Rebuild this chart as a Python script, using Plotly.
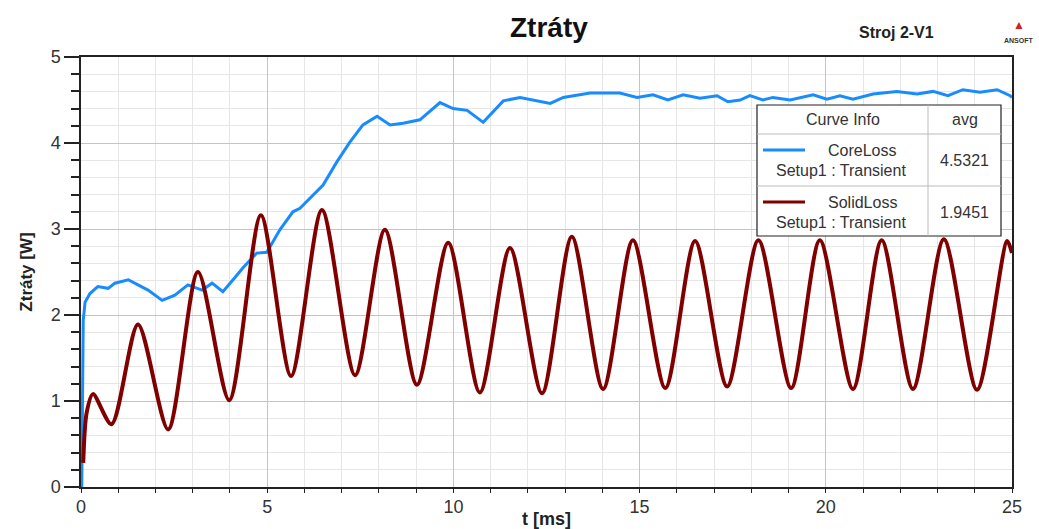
import plotly.graph_objects as go

# ---------------- data ----------------
core_t = [0.02, 0.06, 0.11, 0.24, 0.45, 0.73, 0.91, 1.27, 1.53, 1.8, 2.18, 2.52, 2.87, 3.25,
          3.52, 3.81, 4.14, 4.35, 4.72, 4.99, 5.34, 5.69, 5.88, 6.5, 6.87, 7.22, 7.57, 7.95,
          8.3, 8.65, 9.1, 9.64, 9.99, 10.37, 10.8, 11.07, 11.34, 11.79, 12.33, 12.6, 12.95,
          13.4, 13.67, 14.47, 14.93, 15.36, 15.76, 16.17, 16.62, 17.08, 17.37, 17.7, 17.96,
          18.31, 18.58, 19.04, 19.66, 20.03, 20.38, 20.73, 21.27, 21.91, 22.45, 22.88, 23.28,
          23.68, 24.14, 24.6, 24.95, 25.0]
core_w = [0.0, 1.94, 2.15, 2.25, 2.33, 2.31, 2.37, 2.41, 2.35, 2.29, 2.17, 2.23, 2.35, 2.29,
          2.37, 2.27, 2.44, 2.55, 2.72, 2.73, 2.99, 3.20, 3.24, 3.51, 3.78, 4.01, 4.21, 4.31,
          4.21, 4.23, 4.27, 4.47, 4.40, 4.38, 4.24, 4.36, 4.49, 4.53, 4.48, 4.46, 4.53,
          4.56, 4.58, 4.58, 4.53, 4.56, 4.50, 4.56, 4.52, 4.55, 4.48, 4.50, 4.55,
          4.50, 4.53, 4.50, 4.56, 4.51, 4.55, 4.51, 4.57, 4.60, 4.57, 4.60, 4.55,
          4.62, 4.59, 4.62, 4.55, 4.53]

solid_t = [0.06, 0.15, 0.32, 0.82, 1.53, 2.34, 3.14, 3.98, 4.83, 5.64, 6.47, 7.36, 8.16, 9.02,
           9.86, 10.71, 11.52, 12.38, 13.18, 14.02, 14.82, 15.69, 16.49, 17.35, 18.19, 19.07,
           19.84, 20.73, 21.5, 22.34, 23.17, 24.06, 24.87, 25.0]
solid_w = [0.28, 0.86, 1.08, 0.73, 1.89, 0.67, 2.50, 1.01, 3.16, 1.29, 3.22, 1.30, 2.99, 1.19,
           2.84, 1.10, 2.78, 1.09, 2.91, 1.14, 2.87, 1.15, 2.86, 1.17, 2.87, 1.15,
           2.87, 1.14, 2.87, 1.14, 2.88, 1.13, 2.86, 2.72]

series_names = ["CoreLoss", "SolidLoss"]
setup_label = "Setup1 : Transient"
avg_values = ["4.5321", "1.9451"]
x_ticks = [0, 5, 10, 15, 20, 25]
y_ticks = [0, 1, 2, 3, 4, 5]

BLUE = "rgb(24,140,255)"
RED = "rgb(128,0,0)"
FONT = "Liberation Sans, Arial, sans-serif"

W, H = 1039, 529
L, R, T, B = 81, 1012, 57, 487  # plot area in pixels


def px(x):
    return (x - L) / (R - L)


def py(y):
    return (B - y) / (B - T)


fig = go.Figure()
fig.add_trace(go.Scatter(x=core_t, y=core_w, mode="lines", name=series_names[0],
                         line=dict(color=BLUE, width=3)))
fig.add_trace(go.Scatter(x=solid_t, y=solid_w, mode="lines", name=series_names[1],
                         line=dict(color=RED, width=4, shape="spline", smoothing=0.8)))

fig.update_layout(
    width=W, height=H,
    margin=dict(l=L, r=W - R, t=T, b=H - B, autoexpand=False),
    paper_bgcolor="white", plot_bgcolor="white",
    showlegend=False,
    font=dict(family=FONT, color="#333333"),
)

fig.update_xaxes(
    range=[0, 25], tickvals=x_ticks, ticks="", ticklen=0, automargin=False,
    tickfont=dict(size=18, color="#333333"), ticklabelstandoff=3,
    showgrid=True, gridcolor="#c4c4c4", gridwidth=1,
    showline=True, linecolor="#222222", linewidth=1.5, mirror=True,
    zeroline=False,
    minor=dict(dtick=1, showgrid=True, gridcolor="#e6e6e6", gridwidth=1,
               ticks="outside", ticklen=4, tickcolor="#222222"),
    title=dict(text="<b>t [ms]</b>", font=dict(size=18, color="#222222"), standoff=0),
)
fig.update_yaxes(
    range=[0, 5], tickvals=y_ticks, ticks="outside", ticklen=15, tickcolor="#222222",
    tickwidth=1.5, automargin=False,
    tickfont=dict(size=18, color="#333333"),
    showgrid=True, gridcolor="#c4c4c4", gridwidth=1,
    showline=True, linecolor="#222222", linewidth=1.5, mirror=True,
    zeroline=False,
    minor=dict(dtick=0.2, showgrid=True, gridcolor="#e6e6e6", gridwidth=1,
               ticks="outside", ticklen=8, tickcolor="#222222"),
    title=dict(text="<b>Ztráty [W]</b>", font=dict(size=17, color="#222222"), standoff=14),
)

ann = []
shapes = []


def note(text, x, y, font):
    ann.append(dict(text=text, x=px(x), y=py(y), xref="paper", yref="paper",
                    xanchor="center", yanchor="middle", showarrow=False, font=font))


# title and labels
note("<b>Ztráty</b>", 549, 28, dict(size=28, color="#111111", family=FONT))
note("<b>Stroj 2-V1</b>", 896, 33, dict(size=16, color="#222222", family=FONT))
note("▲", 1019, 25, dict(size=12, color="#d02020", family=FONT))
note("<b>ANSOFT</b>", 1019, 41, dict(size=7, color="#333333", family=FONT))

# legend table
bx0, bx1, by0, by1 = 757, 1001, 105, 236
colx = 928
row1, row2 = 134, 186
shapes.append(dict(type="rect", xref="paper", yref="paper", x0=px(bx0), x1=px(bx1),
                   y0=py(by1), y1=py(by0), fillcolor="white",
                   line=dict(color="#222222", width=1.2), layer="above"))
for yy in (row1, row2):
    shapes.append(dict(type="line", xref="paper", yref="paper", x0=px(bx0), x1=px(bx1),
                       y0=py(yy), y1=py(yy), line=dict(color="#bbbbbb", width=1), layer="above"))
shapes.append(dict(type="line", xref="paper", yref="paper", x0=px(colx), x1=px(colx),
                   y0=py(by1), y1=py(by0), line=dict(color="#bbbbbb", width=1), layer="above"))

lf = dict(size=16, color="#333333", family=FONT)
note("Curve Info", (bx0 + colx) / 2, 120, lf)
note("avg", (colx + bx1) / 2, 120, lf)
colors = [BLUE, RED]
name_y = [150, 202]
for i in range(2):
    ny = name_y[i]
    shapes.append(dict(type="line", xref="paper", yref="paper", x0=px(763), x1=px(805),
                       y0=py(ny), y1=py(ny), line=dict(color=colors[i], width=3), layer="above"))
    note(series_names[i], 862, ny, lf)
    note(setup_label, 841, ny + 20, lf)
    note(avg_values[i], (colx + bx1) / 2, ny + 10, lf)

fig.update_layout(annotations=ann, shapes=shapes)
fig.write_html("out.html", config={"displayModeBar": False},
               post_script="document.body.style.margin='0';document.body.style.padding='0';"
                           "document.documentElement.style.overflow='hidden';")
